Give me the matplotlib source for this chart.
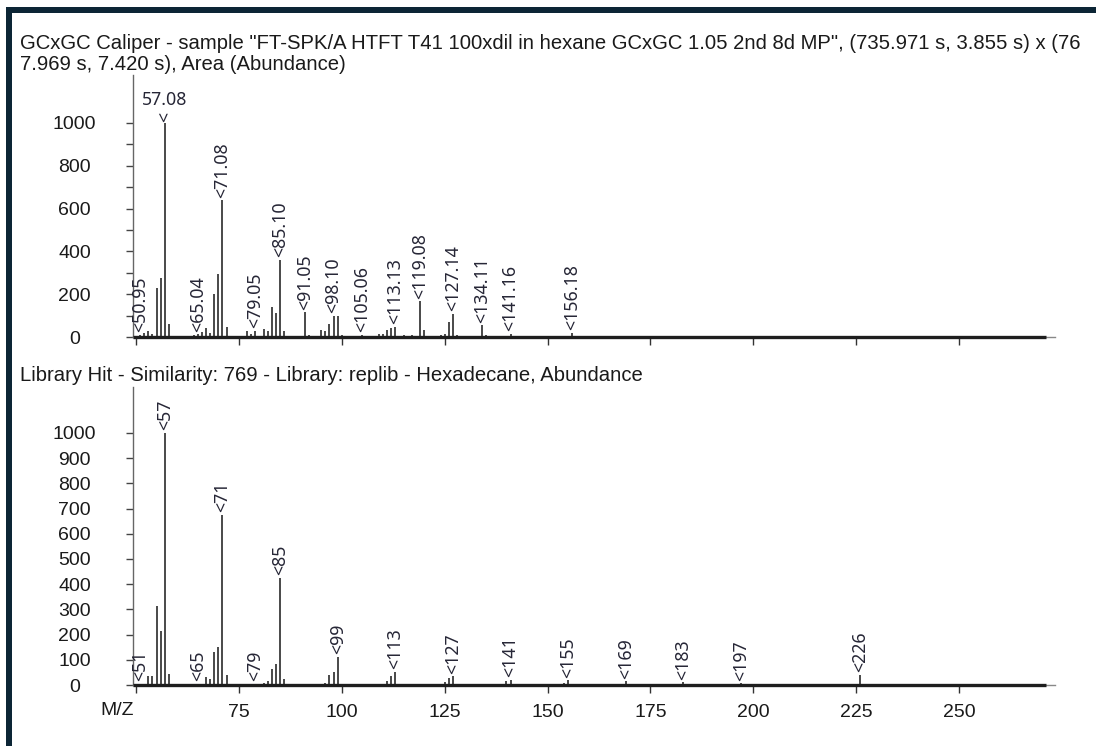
import matplotlib
matplotlib.use("Agg")
import matplotlib.pyplot as plt
from matplotlib.patches import Rectangle

W, H, DPI = 1096, 746, 100

TITLE_TOP = ('GCxGC Caliper - sample "FT-SPK/A HTFT T41 100xdil in hexane GCxGC 1.05 2nd 8d MP", '
             '(735.971 s, 3.855 s) x (76\n7.969 s, 7.420 s), Area (Abundance)')
TITLE_LIB = "Library Hit - Similarity: 769 - Library: replib - Hexadecane, Abundance"

# ── sample spectrum (top) ─────────────────────────────────────────────────────
top_mz = [51, 52, 53, 54, 55, 56, 57, 58,
          64, 65, 66, 67, 68, 69, 70, 71, 72,
          77, 78, 79, 81, 82, 83, 84, 85, 86,
          91, 92, 95, 96, 97, 98, 99, 100,
          104, 105, 109, 110, 111, 112, 113, 115, 117, 119, 120,
          124, 125, 126, 127, 128, 134, 135, 137, 138, 139, 140, 141,
          153, 154, 156]
top_ab = [10, 18, 30, 14, 230, 275, 1000, 60,
          8, 12, 22, 42, 19, 203, 296, 638, 47,
          30, 14, 30, 36, 30, 138, 113, 362, 30,
          115, 11, 31, 26, 61, 100, 97, 11,
          5, 11, 14, 14, 34, 42, 47, 8, 8, 166, 31,
          8, 15, 70, 109, 11, 54, 8, 6, 6, 6, 6, 14,
          6, 6, 19]
top_label_mz = [51, 57, 65, 71, 79, 85, 91, 98, 105, 113, 119, 127, 134, 141, 156]
top_label_txt = ["50.95", "57.08", "65.04", "71.08", "79.05", "85.10", "91.05", "98.10",
                 "105.06", "113.13", "119.08", "127.14", "134.11", "141.16", "156.18"]

# ── library hit spectrum (bottom) ─────────────────────────────────────────────
lib_mz = [51, 53, 54, 55, 56, 57, 58,
          65, 67, 68, 69, 70, 71, 72,
          79, 81, 82, 83, 84, 85, 86,
          96, 97, 98, 99, 111, 112, 113, 125, 126, 127,
          140, 141, 154, 155, 168, 169, 183, 197, 226]
lib_ab = [4, 35, 35, 315, 216, 1000, 45,
          5, 30, 22, 132, 149, 674, 40,
          4, 6, 17, 62, 83, 426, 22,
          8, 39, 52, 111, 17, 34, 52, 10, 26, 34,
          15, 20, 6, 18, 5, 14, 10, 6, 40]
lib_label_mz = [51, 57, 65, 71, 79, 85, 99, 113, 127, 141, 155, 169, 183, 197, 226]
lib_label_txt = ["51", "57", "65", "71", "79", "85", "99", "113", "127", "141",
                 "155", "169", "183", "197", "226"]

X_MIN, X_MAX, X_AXIS_END = 49.27, 273.3, 271
x_ticks = [50, 75, 100, 125, 150, 175, 200, 225, 250]

BORDER = "#0c2535"
BAR = "#3a3a3a"
TXT = "#1a1a1a"
LBL = "#262636"

plt.rcParams["font.family"] = ["Liberation Sans", "DejaVu Sans"]

fig = plt.figure(figsize=(W / DPI, H / DPI), dpi=DPI, facecolor="white")

# window frame
fig.patches.append(Rectangle((6 / W, 1 - 13 / H), 1, 6 / H, transform=fig.transFigure,
                             facecolor=BORDER, edgecolor="none"))
fig.patches.append(Rectangle((6 / W, 0), 6 / W, 1 - 7 / H, transform=fig.transFigure,
                             facecolor=BORDER, edgecolor="none"))

fig.text(20 / W, 1 - 34 / H, TITLE_TOP, fontsize=14.6, color=TXT, va="top", ha="left",
         linespacing=1.12)
fig.text(20 / W, 1 - 366 / H, TITLE_LIB, fontsize=14.6, color=TXT, va="top", ha="left")

left, right = 133 / W, 1055 / W
ax1 = fig.add_axes([left, (H - 337) / H, right - left, (337 - 75) / H])
ax2 = fig.add_axes([left, (H - 685) / H, right - left, (685 - 387) / H])


def style_axis(ax, ymax, yticks, ylabels, show_xlabels):
    ax.set_xlim(X_MIN, X_MAX)
    ax.set_ylim(0, ymax)
    for s in ["top", "right"]:
        ax.spines[s].set_visible(False)
    ax.spines["left"].set_color("#666666")
    ax.spines["left"].set_linewidth(1)
    ax.spines["bottom"].set_color("#888888")
    ax.spines["bottom"].set_linewidth(1)
    ax.hlines(0, X_MIN, X_AXIS_END, color="#1e1e1e", linewidth=2.4, zorder=4,
              clip_on=False)
    ax.set_xticks(x_ticks)
    if show_xlabels:
        ax.set_xticklabels([""] + [str(t) for t in x_ticks[1:]])
    else:
        ax.set_xticklabels([])
    ax.tick_params(axis="x", direction="out", length=6, width=1, color="#333333",
                   labelsize=14, labelcolor=TXT, pad=8)
    ax.set_yticks(yticks)
    ax.set_yticklabels(ylabels)
    ax.tick_params(axis="y", direction="out", length=5, width=1, color="#444444",
                   labelsize=14, labelcolor=TXT, pad=37)
    for lab in ax.get_yticklabels():
        lab.set_horizontalalignment("center")


def draw_peaks(ax, mz, ab, label_mz, label_txt):
    ax.vlines(mz, 0, ab, color=BAR, linewidth=1.3, zorder=3)
    height = dict(zip(mz, ab))
    renderer = fig.canvas.get_renderer()
    ax_top = ax.get_window_extent(renderer).y1
    for m, t in zip(label_mz, label_txt):
        h = height[m]
        txt = ax.annotate("<" + t, xy=(m, h), xytext=(0, 2), textcoords="offset points",
                          rotation=90, ha="center", va="bottom", fontsize=12.8,
                          family="Noto Sans", color=LBL, annotation_clip=False)
        if txt.get_window_extent(renderer).y1 > ax_top:
            # label would stick out above the axis -> write it horizontally
            txt.remove()
            ax.annotate("<", xy=(m, h), xytext=(0, 1), textcoords="offset points",
                        rotation=90, ha="center", va="bottom", fontsize=12.8,
                        family="Noto Sans", color=LBL, annotation_clip=False)
            ax.annotate(t, xy=(m, h), xytext=(0, 10), textcoords="offset points",
                        ha="center", va="bottom", fontsize=12.8,
                        family="Noto Sans", color=LBL, annotation_clip=False)


style_axis(ax1, 1224, list(range(0, 1001, 100)),
           [str(v) if v % 200 == 0 else "" for v in range(0, 1001, 100)], False)
style_axis(ax2, 1182, list(range(0, 1001, 100)),
           [str(v) for v in range(0, 1001, 100)], True)

draw_peaks(ax1, top_mz, top_ab, top_label_mz, top_label_txt)
draw_peaks(ax2, lib_mz, lib_ab, lib_label_mz, lib_label_txt)

ax2.annotate("M/Z", xy=(50, 0), xycoords=ax2.get_xaxis_transform(), xytext=(-19, -17),
             textcoords="offset pixels", ha="center", va="top", fontsize=14, color=TXT)

fig.savefig("out.png", dpi=DPI, facecolor="white")
